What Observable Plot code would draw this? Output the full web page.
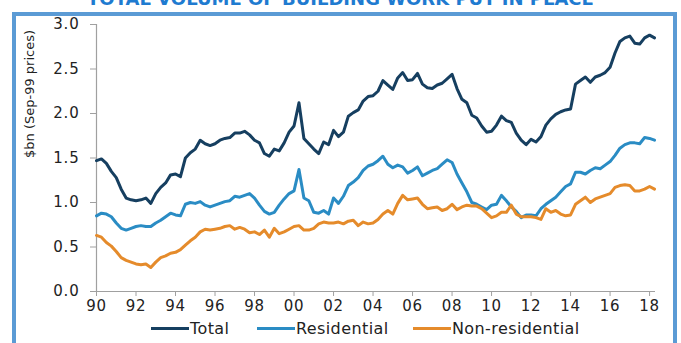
<!DOCTYPE html>
<html>
<head>
<meta charset="utf-8">
<script src="https://cdn.jsdelivr.net/npm/d3@7"></script>
<script src="https://cdn.jsdelivr.net/npm/@observablehq/plot@0.6"></script>
<style>
  html, body { margin: 0; padding: 0; background: #fff; overflow: hidden; }
  #wrap { position: relative; width: 681px; height: 343px; overflow: hidden; font-family: "DejaVu Sans", sans-serif; }
  #title { position: absolute; left: 0; width: 681px; top: -10px; text-align: center; font-size: 18px; line-height: 18px; font-weight: bold; color: #1f7bd0; white-space: nowrap; }
  #frame { position: absolute; left: 12px; top: 12px; width: 665px; height: 420px; border: 4px solid #5b9bd5; box-sizing: border-box; pointer-events: none; }
  #chart { position: absolute; left: 0; top: 0; }
  #chart svg g[aria-label="text"] text { letter-spacing: 0px; }
  .leg { position: absolute; top: 320px; font-size: 16px; line-height: 18px; color: #222; letter-spacing: 0.4px; white-space: nowrap; }
  .leg .sw { display: inline-block; width: 38px; height: 3px; vertical-align: middle; margin-right: 1px; position: relative; top: -1px; }
</style>
</head>
<body>
<div id="wrap">
  <div id="chart"></div>
  <div id="title">TOTAL VOLUME OF BUILDING WORK PUT IN PLACE</div>
  <div id="frame"></div>
  <div id="legend"></div>
</div>
<script>
// Quarterly series, 1990 Q1 to 2018 Q2 ($bn, Sep-99 prices)
const startYear = 1990;
const seriesNames = ["Total", "Residential", "Non-residential"];
const seriesColors = ["#163f60", "#2a8cc4", "#e58b2b"];

const total = [
  1.47,1.49,1.44,1.35, 1.28,1.15,1.05,1.03, 1.02,1.03,1.05,0.99, 1.10,1.17,1.22,1.31,
  1.32,1.29,1.50,1.56, 1.60,1.70,1.66,1.64, 1.66,1.70,1.72,1.73, 1.78,1.78,1.80,1.76,
  1.70,1.67,1.55,1.52, 1.60,1.58,1.67,1.79, 1.86,2.12,1.72,1.66, 1.60,1.55,1.68,1.65,
  1.81,1.74,1.79,1.97, 2.01,2.04,2.14,2.19, 2.20,2.25,2.37,2.32, 2.27,2.40,2.46,2.37,
  2.38,2.45,2.33,2.29, 2.28,2.32,2.34,2.39, 2.44,2.28,2.16,2.12, 1.98,1.95,1.86,1.79,
  1.80,1.87,1.97,1.92, 1.90,1.78,1.70,1.65, 1.71,1.68,1.74,1.87, 1.94,1.99,2.02,2.04,
  2.05,2.33,2.37,2.41, 2.35,2.41,2.43,2.46, 2.52,2.68,2.81,2.85, 2.87,2.79,2.78,2.85,
  2.88,2.85
];
const residential = [
  0.85,0.88,0.87,0.84, 0.77,0.71,0.69,0.71, 0.73,0.74,0.73,0.73, 0.77,0.80,0.84,0.88,
  0.86,0.85,0.98,1.00, 0.99,1.01,0.97,0.95, 0.97,0.99,1.01,1.02, 1.07,1.06,1.08,1.10,
  1.05,0.97,0.90,0.87, 0.89,0.97,1.04,1.10, 1.13,1.37,1.05,1.02, 0.89,0.88,0.91,0.87,
  1.05,0.99,1.07,1.19, 1.23,1.28,1.36,1.41, 1.43,1.47,1.52,1.43, 1.39,1.42,1.40,1.33,
  1.36,1.40,1.30,1.33, 1.36,1.38,1.43,1.48, 1.45,1.32,1.22,1.12, 1.00,0.98,0.95,0.92,
  0.97,0.98,1.08,1.02, 0.95,0.90,0.83,0.86, 0.86,0.85,0.93,0.98, 1.02,1.06,1.12,1.18,
  1.21,1.34,1.34,1.32, 1.36,1.39,1.38,1.42, 1.46,1.53,1.61,1.65, 1.67,1.67,1.66,1.73,
  1.72,1.70
];
const nonResidential = [
  0.63,0.61,0.55,0.51, 0.45,0.38,0.35,0.33, 0.31,0.30,0.31,0.27, 0.33,0.38,0.40,0.43,
  0.44,0.47,0.52,0.57, 0.61,0.67,0.70,0.69, 0.70,0.71,0.73,0.74, 0.70,0.72,0.70,0.66,
  0.67,0.64,0.69,0.61, 0.71,0.65,0.67,0.70, 0.73,0.74,0.69,0.69, 0.71,0.76,0.78,0.77,
  0.77,0.78,0.76,0.79, 0.80,0.74,0.78,0.76, 0.77,0.81,0.87,0.91, 0.87,0.99,1.08,1.03,
  1.04,1.05,0.98,0.93, 0.94,0.95,0.91,0.93, 0.98,0.92,0.95,0.97, 0.96,0.96,0.93,0.88,
  0.83,0.85,0.89,0.89, 0.97,0.87,0.84,0.84, 0.84,0.83,0.81,0.93, 0.89,0.91,0.87,0.85,
  0.86,0.98,1.02,1.06, 1.00,1.04,1.06,1.08, 1.10,1.17,1.19,1.20, 1.19,1.13,1.13,1.15,
  1.18,1.15
];

const xTickValues = [1990,1992,1994,1996,1998,2000,2002,2004,2006,2008,2010,2012,2014,2016,2018];
const xTickLabels = ["90","92","94","96","98","00","02","04","06","08","10","12","14","16","18"];
const yTickValues = [0, 0.5, 1, 1.5, 2, 2.5, 3];
const yTickLabels = ["0.0","0.5","1.0","1.5","2.0","2.5","3.0"];
const yLabel = "$bn (Sep-99 prices)";

const allSeries = [total, residential, nonResidential];
const rows = [];
allSeries.forEach((arr, s) => arr.forEach((v, i) => rows.push({series: seriesNames[s], t: startYear + i / 4, v})));

const chart = Plot.plot({
  width: 681,
  height: 343,
  marginLeft: 96,
  marginRight: 26,
  marginTop: 24,
  marginBottom: 52,
  style: {fontFamily: "DejaVu Sans, sans-serif", fontSize: "15px", color: "#222", background: "transparent", letterSpacing: "0.8px"},
  x: {domain: [1990, 2018.3]},
  y: {domain: [0, 3]},
  color: {domain: seriesNames, range: seriesColors},
  marks: [
    Plot.ruleY([0], {stroke: "#a0a0a0", strokeWidth: 1.2}),
    Plot.ruleX([1990], {stroke: "#a0a0a0", strokeWidth: 1.2}),
    Plot.axisY({ticks: yTickValues, tickSize: 6, tickPadding: 11, stroke: "#a0a0a0", fill: "#222",
      tickFormat: d => yTickLabels[yTickValues.indexOf(d)], label: null}),
    Plot.axisX({ticks: xTickValues, tickSize: 5, tickPadding: 4, stroke: "#a0a0a0", fill: "#222",
      tickFormat: d => xTickLabels[xTickValues.indexOf(d)], label: null}),
    Plot.text([yLabel], {frameAnchor: "left", dx: -67, rotate: -90, fontSize: 13, fill: "#222"}),
    Plot.lineY(rows, {x: "t", y: "v", z: "series", stroke: "series", strokeWidth: 3, strokeLinejoin: "round"})
  ]
});
document.getElementById("chart").appendChild(chart);

const legendPos = [151, 257, 413];
const leg = document.getElementById("legend");
seriesNames.forEach((name, i) => {
  const d = document.createElement("div");
  d.className = "leg";
  d.style.left = legendPos[i] + "px";
  d.innerHTML = `<span class="sw" style="background:${seriesColors[i]}"></span>${name}`;
  leg.appendChild(d);
});
</script>
</body>
</html>
